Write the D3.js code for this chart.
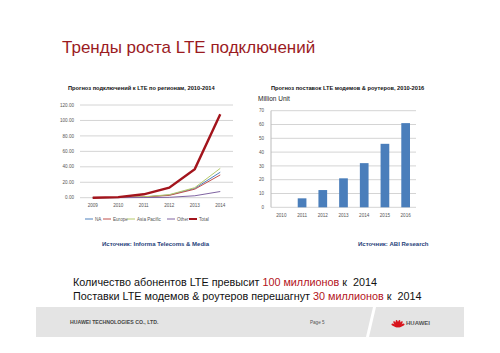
<!DOCTYPE html>
<html><head><meta charset="utf-8">
<script src="https://cdn.jsdelivr.net/npm/d3@7/dist/d3.min.js"></script>
<style>body{margin:0;background:#fff}svg{display:block;font-family:"Liberation Sans",Arial,sans-serif}</style>
</head><body><svg id="c" width="500" height="353"></svg>
<script>
// Left chart: LTE subscriptions by region (millions)
const years = ["2009","2010","2011","2012","2013","2014"];
const seriesNames = ["NA","Europe","Asia Pacific","Other","Total"];
const naValues     = [0, 0.2, 1.0, 3.5, 12, 33];
const europeValues = [0, 0.2, 0.9, 3.0, 11, 29.5];
const asiaValues   = [0, 0.2, 1.1, 4.0, 13, 38];
const otherValues  = [0, 0.05, 0.2, 0.5, 2.5, 8];
const totalValues  = [0, 0.8, 4.4, 13, 37, 108];
const leftTicks = [0,20,40,60,80,100,120];
const leftTickLabels = ["0.00","20.00","40.00","60.00","80.00","100.00","120.00"];
// Right chart: LTE modem & router shipments (million units)
const shipYears = ["2010","2011","2012","2013","2014","2015","2016"];
const shipValues = [0, 6.5, 12.5, 21, 32, 46, 61];
const rightTicks = [0,10,20,30,40,50,60,70];

const svg = d3.select("#c");

// Title
svg.append("text").attr("x",62).attr("y",53).attr("font-size",17).attr("fill","#9b1b1f")
  .text("Тренды роста LTE подключений");

// ---- Left chart ----
const lx = d3.scaleBand().domain(years).range([80,233]);
const ly = d3.scaleLinear().domain([0,120]).range([197.7,105]);
const L = svg.append("g");
L.append("text").attr("x",68).attr("y",90).attr("font-size",5.7).attr("font-weight","bold").attr("fill","#111")
  .text("Прогноз подключений к LTE по регионам, 2010-2014");
L.append("g").selectAll("line").data(leftTicks).join("line")
  .attr("x1",80).attr("x2",233).attr("y1",d=>ly(d)).attr("y2",d=>ly(d))
  .attr("stroke","#d4d4d4").attr("stroke-width",1);
L.append("g").selectAll("text").data(leftTicks).join("text")
  .attr("x",74).attr("y",d=>ly(d)+1.6).attr("text-anchor","end").attr("font-size",4.6).attr("fill","#555")
  .text((d,i)=>leftTickLabels[i]);
L.append("g").selectAll("text").data(years).join("text")
  .attr("x",d=>lx(d)+lx.bandwidth()/2).attr("y",207).attr("text-anchor","middle").attr("font-size",4.6).attr("fill","#555")
  .text(d=>d);
const lineColors = ["#4f81bd","#c0504d","#b5c96a","#8064a2","#a3141c"];
const lineData = [naValues,europeValues,asiaValues,otherValues,totalValues];
const lineGen = d3.line().x((d,i)=>lx(years[i])+lx.bandwidth()/2).y(d=>ly(d));
lineData.forEach((vals,k)=>{
  L.append("path").attr("d",lineGen(vals)).attr("fill","none")
   .attr("stroke",lineColors[k]).attr("stroke-width",k===4?2.4:1);
});
const legX = [85,103,127,167,189];
seriesNames.forEach((n,k)=>{
  L.append("line").attr("x1",legX[k]).attr("x2",legX[k]+8).attr("y1",219).attr("y2",219)
   .attr("stroke",lineColors[k]).attr("stroke-width",k===4?2:1);
  L.append("text").attr("x",legX[k]+10).attr("y",220.6).attr("font-size",4.6).attr("fill","#555").text(n);
});
L.append("text").attr("x",102).attr("y",246).attr("font-size",6).attr("font-weight","bold").attr("fill","#1f3f7a")
  .text("Источник: Informa Telecoms &  Media");

// ---- Right chart ----
const rx = d3.scaleBand().domain(shipYears).range([271,416]).paddingInner(0.58).paddingOuter(0.29);
const ry = d3.scaleLinear().domain([0,70]).range([207.3,110.7]);
const R = svg.append("g");
R.append("text").attr("x",271).attr("y",90).attr("font-size",5.7).attr("font-weight","bold").attr("fill","#111")
  .text("Прогноз поставок LTE  модемов & роутеров, 2010-2016");
R.append("text").attr("x",258).attr("y",101).attr("font-size",6.5).attr("fill","#222").text("Million Unit");
R.append("g").selectAll("line").data(rightTicks).join("line")
  .attr("x1",271).attr("x2",416).attr("y1",d=>ry(d)).attr("y2",d=>ry(d))
  .attr("stroke","#d4d4d4").attr("stroke-width",1);
R.append("line").attr("x1",271).attr("x2",271).attr("y1",ry(70)).attr("y2",ry(0)).attr("stroke","#bbb");
R.append("g").selectAll("text").data(rightTicks).join("text")
  .attr("x",264).attr("y",d=>ry(d)+1.6).attr("text-anchor","end").attr("font-size",4.6).attr("fill","#555")
  .text(d=>d);
R.append("g").selectAll("rect").data(shipValues).join("rect")
  .attr("x",(d,i)=>rx(shipYears[i])).attr("width",rx.bandwidth())
  .attr("y",d=>ry(d)).attr("height",d=>ry(0)-ry(d)).attr("fill","#4a7ebb");
R.append("g").selectAll("text").data(shipYears).join("text")
  .attr("x",d=>rx(d)+rx.bandwidth()/2).attr("y",216.5).attr("text-anchor","middle").attr("font-size",4.6).attr("fill","#555")
  .text(d=>d);
R.append("text").attr("x",358).attr("y",246).attr("font-size",6).attr("font-weight","bold").attr("fill","#1f3f7a")
  .text("Источник: ABI Research");

// ---- Bottom text ----
const t1 = svg.append("text").attr("x",73).attr("y",286).attr("font-size",10.8).attr("fill","#111").attr("xml:space","preserve");
t1.append("tspan").text("Количество абонентов LTE превысит ");
t1.append("tspan").attr("fill","#b3121b").text("100 миллионов");
t1.append("tspan").text(" к  2014");
const t2 = svg.append("text").attr("x",73).attr("y",300).attr("font-size",10.8).attr("fill","#111").attr("xml:space","preserve");
t2.append("tspan").text("Поставки LTE модемов & роутеров перешагнут ");
t2.append("tspan").attr("fill","#b3121b").text("30 миллионов");
t2.append("tspan").text(" к  2014");

// ---- Footer ----
svg.append("rect").attr("x",36).attr("y",307).attr("width",428).attr("height",30).attr("fill","#e4e4e4");
svg.append("polygon").attr("points","373,307 376,307 369,337 366,337").attr("fill","#fff");
svg.append("text").attr("x",70).attr("y",324).attr("font-size",5.2).attr("font-weight","bold").attr("fill","#444")
  .text("HUAWEI TECHNOLOGIES CO., LTD.");
svg.append("text").attr("x",310).attr("y",324).attr("font-size",4.6).attr("fill","#555").text("Page 5");
const logo = svg.append("g").attr("transform","translate(398,327)");
[-65,-38,-13,13,38,65].forEach(a=>{
  logo.append("ellipse").attr("cx",0).attr("cy",-3.6).attr("rx",1.2).attr("ry",3.6)
    .attr("transform",`rotate(${a})`).attr("fill","#d8141c");
});
svg.append("text").attr("x",406).attr("y",325).attr("font-size",6).attr("font-weight","bold").attr("fill","#555").text("HUAWEI");
</script></body></html>
